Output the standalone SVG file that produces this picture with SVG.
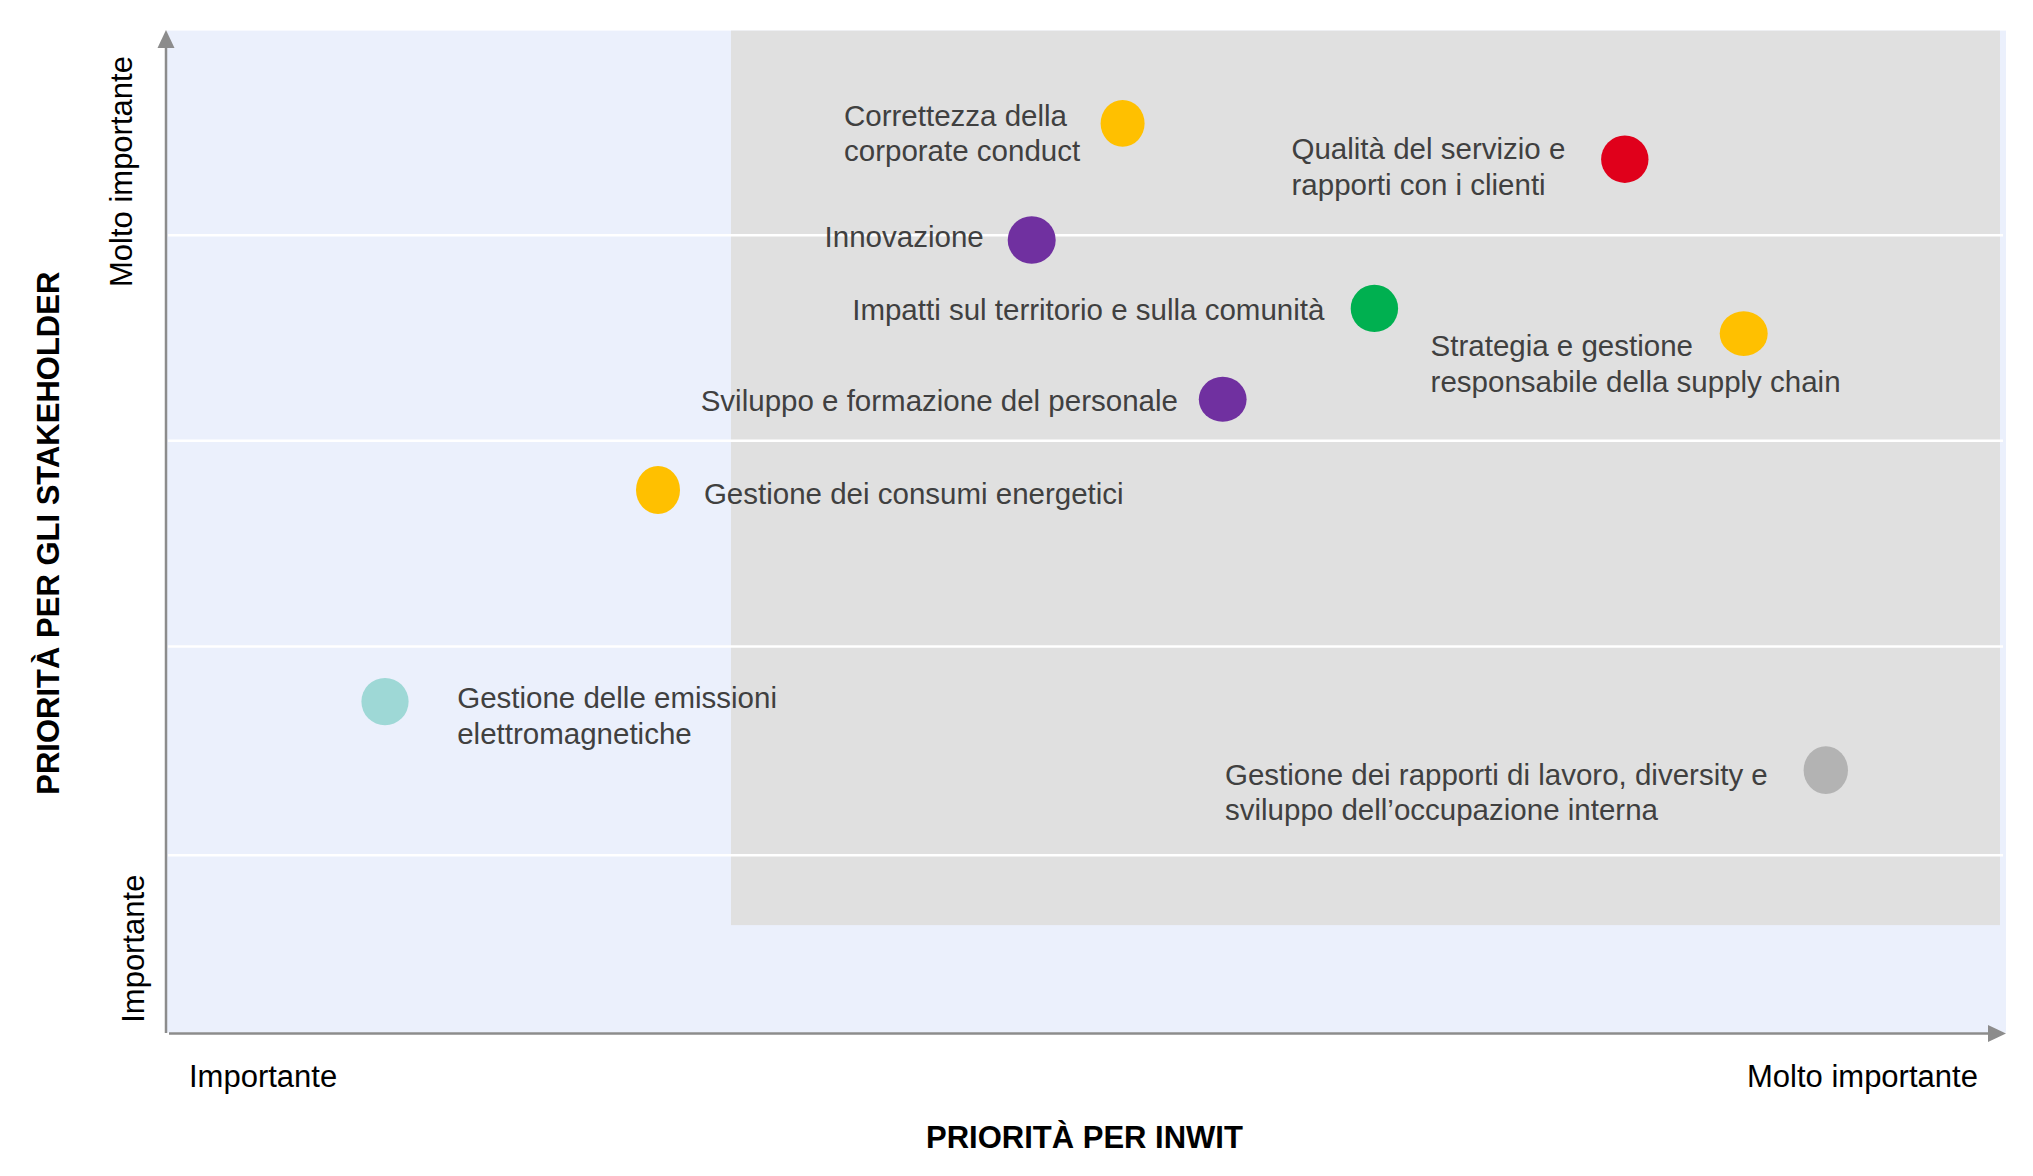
<svg xmlns="http://www.w3.org/2000/svg" width="2033" height="1176" viewBox="0 0 2033 1176">
<defs>
<style>
.lbl{font-family:"Liberation Sans",Arial,sans-serif;font-size:29.5px;fill:#404040}
.ax{font-family:"Liberation Sans",Arial,sans-serif;font-size:31px;fill:#000}
.axt{font-family:"Liberation Sans",Arial,sans-serif;font-size:31px;font-weight:bold;fill:#000}
.grid{stroke:#ffffff;stroke-width:2.5}
.axis{stroke:#8c8c8c;stroke-width:2.5;fill:none}
</style>
</defs>
<rect width="2033" height="1176" fill="#ffffff"/>
<g id="background">
<rect x="167" y="30.6" width="1839" height="1002" fill="#ebf0fc"/>
<rect x="731" y="30.6" width="1269" height="894.5" fill="#e0e0e0"/>
<line class="grid" x1="168" y1="235.3" x2="2003" y2="235.3"/>
<line class="grid" x1="168" y1="440.8" x2="2003" y2="440.8"/>
<line class="grid" x1="168" y1="646.4" x2="2003" y2="646.4"/>
<line class="grid" x1="168" y1="855.3" x2="2003" y2="855.3"/>
</g>
<g id="axes">
<line class="axis" x1="166" y1="46" x2="166" y2="1033"/>
<polygon points="166,30 157.5,48 174.5,48" fill="#8c8c8c"/>
<line class="axis" x1="169" y1="1033.5" x2="1990" y2="1033.5"/>
<polygon points="2006,1033.5 1988,1025 1988,1042" fill="#8c8c8c"/>
<text class="ax" transform="translate(131.6,287) rotate(-90)">Molto importante</text>
<text class="ax" transform="translate(143.7,1022.8) rotate(-90)">Importante</text>
<text class="axt" transform="translate(58.9,794.7) rotate(-90)">PRIORITÀ PER GLI STAKEHOLDER</text>
<text class="ax" x="189" y="1087.4">Importante</text>
<text class="ax" x="1747" y="1087">Molto importante</text>
<text class="axt" x="926" y="1147.5">PRIORITÀ PER INWIT</text>
</g>
<g id="connectors"></g>
<g id="n-correttezza">
<ellipse cx="1122.6" cy="123.4" rx="22" ry="23.4" fill="#ffc000"/>
<text class="lbl" x="844" y="125.7">Correttezza della</text>
<text class="lbl" x="844" y="161">corporate conduct</text>
</g>
<g id="n-qualita">
<ellipse cx="1624.8" cy="159.2" rx="23.7" ry="23.7" fill="#e0001b"/>
<text class="lbl" x="1291.5" y="158.7">Qualità del servizio e</text>
<text class="lbl" x="1291.5" y="195.2">rapporti con i clienti</text>
</g>
<g id="n-innovazione">
<ellipse cx="1031.7" cy="240" rx="24" ry="23.7" fill="#7030a0"/>
<text class="lbl" x="824.6" y="247.3">Innovazione</text>
</g>
<g id="n-impatti">
<ellipse cx="1374.4" cy="308.4" rx="23.7" ry="23.7" fill="#00b050"/>
<text class="lbl" x="852.2" y="320.3">Impatti sul territorio e sulla comunità</text>
</g>
<g id="n-strategia">
<ellipse cx="1743.7" cy="333.6" rx="24" ry="22.3" fill="#ffc000"/>
<text class="lbl" x="1430.6" y="356.1">Strategia e gestione</text>
<text class="lbl" x="1430.6" y="391.5">responsabile della supply chain</text>
</g>
<g id="n-sviluppo">
<ellipse cx="1222.7" cy="399.3" rx="23.9" ry="22.5" fill="#7030a0"/>
<text class="lbl" x="700.7" y="411.2">Sviluppo e formazione del personale</text>
</g>
<g id="n-consumi">
<ellipse cx="658" cy="490" rx="22" ry="24" fill="#ffc000"/>
<text class="lbl" x="703.9" y="504.4">Gestione dei consumi energetici</text>
</g>
<g id="n-emissioni">
<ellipse cx="385" cy="701.6" rx="23.6" ry="23.7" fill="#9ed8d6"/>
<text class="lbl" x="457.2" y="707.7">Gestione delle emissioni</text>
<text class="lbl" x="457.2" y="743.8">elettromagnetiche</text>
</g>
<g id="n-rapporti">
<ellipse cx="1825.8" cy="770.2" rx="22.2" ry="23.9" fill="#b3b3b3"/>
<text class="lbl" x="1225" y="784.6">Gestione dei rapporti di lavoro, diversity e</text>
<text class="lbl" x="1225" y="819.8">sviluppo dell’occupazione interna</text>
</g>
</svg>
